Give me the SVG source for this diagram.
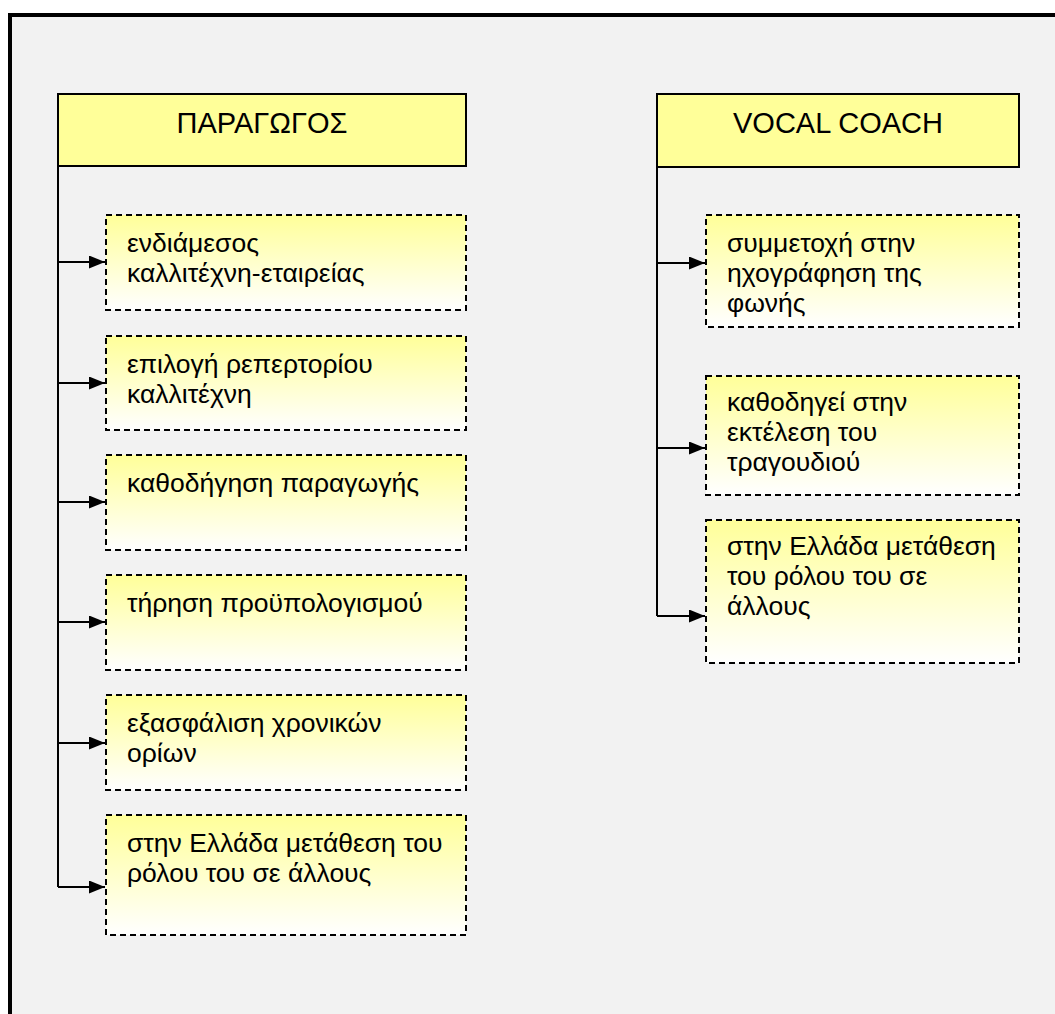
<svg xmlns="http://www.w3.org/2000/svg" width="1055" height="1014" viewBox="0 0 1055 1014">
  <defs>
    <linearGradient id="fade" x1="0" y1="0" x2="0" y2="1">
      <stop offset="0" stop-color="#ffff99"/>
      <stop offset="1" stop-color="#ffffff"/>
    </linearGradient>
    <marker id="arrow" viewBox="0 0 16 13" refX="16" refY="6.5" markerWidth="8" markerHeight="6.5" markerUnits="strokeWidth" orient="auto">
      <path d="M0,0 L16,6.5 L0,13 z" fill="#000"/>
    </marker>
    <style>
      .frame { fill: #f2f2f2; stroke: #000; stroke-width: 4; }
      .head { fill: #ffff99; stroke: #000; stroke-width: 2; }
      .item { fill: url(#fade); stroke: #000; stroke-width: 2; stroke-dasharray: 6 4; }
      .ht { font-family: "Liberation Sans", Arial, sans-serif; font-size: 29px; fill: #000; text-anchor: middle; }
      .t { font-family: "Liberation Sans", Arial, sans-serif; font-size: 26.5px; fill: #000; }
      .c { fill: none; stroke: #000; stroke-width: 2; }
      .a { fill: none; stroke: #000; stroke-width: 2; marker-end: url(#arrow); }
    </style>
  </defs>
  <rect x="0" y="0" width="1055" height="1014" fill="#ffffff"/>
  <rect class="frame" x="10" y="15" width="1100" height="1100"/>

  <g id="connectors">
    <path class="c" d="M58,166 V887"/>
    <path class="a" d="M58,262 H105"/>
    <path class="a" d="M58,383 H105"/>
    <path class="a" d="M58,502 H105"/>
    <path class="a" d="M58,622 H105"/>
    <path class="a" d="M58,743 H105"/>
    <path class="a" d="M58,887 H105"/>
    <path class="c" d="M657,167 V616"/>
    <path class="a" d="M657,263 H705"/>
    <path class="a" d="M657,448 H705"/>
    <path class="a" d="M657,616 H705"/>
  </g>

  <g id="producer">
    <rect class="head" x="58" y="94" width="408" height="72"/>
    <text class="ht" x="262" y="133">ΠΑΡΑΓΩΓΟΣ</text>
  </g>
  <g id="p1">
    <rect class="item" x="106" y="215" width="360" height="95"/>
    <text class="t" x="127" y="252">ενδιάμεσος</text>
    <text class="t" x="127" y="282">καλλιτέχνη-εταιρείας</text>
  </g>
  <g id="p2">
    <rect class="item" x="106" y="336" width="360" height="94"/>
    <text class="t" x="127" y="373">επιλογή ρεπερτορίου</text>
    <text class="t" x="127" y="403">καλλιτέχνη</text>
  </g>
  <g id="p3">
    <rect class="item" x="106" y="455" width="360" height="95"/>
    <text class="t" x="127" y="492">καθοδήγηση παραγωγής</text>
  </g>
  <g id="p4">
    <rect class="item" x="106" y="575" width="360" height="95"/>
    <text class="t" x="127" y="612">τήρηση προϋπολογισμού</text>
  </g>
  <g id="p5">
    <rect class="item" x="106" y="695" width="360" height="95"/>
    <text class="t" x="127" y="732">εξασφάλιση χρονικών</text>
    <text class="t" x="127" y="762">ορίων</text>
  </g>
  <g id="p6">
    <rect class="item" x="106" y="815" width="360" height="120"/>
    <text class="t" x="127" y="852">στην Ελλάδα μετάθεση του</text>
    <text class="t" x="127" y="882">ρόλου του σε άλλους</text>
  </g>

  <g id="vocalcoach">
    <rect class="head" x="657" y="94" width="362" height="73"/>
    <text class="ht" x="838" y="133">VOCAL COACH</text>
  </g>
  <g id="v1">
    <rect class="item" x="706" y="215" width="313" height="112"/>
    <text class="t" x="727" y="252">συμμετοχή στην</text>
    <text class="t" x="727" y="282">ηχογράφηση της</text>
    <text class="t" x="727" y="312">φωνής</text>
  </g>
  <g id="v2">
    <rect class="item" x="706" y="376" width="313" height="119"/>
    <text class="t" x="727" y="411">καθοδηγεί στην</text>
    <text class="t" x="727" y="441">εκτέλεση του</text>
    <text class="t" x="727" y="471">τραγουδιού</text>
  </g>
  <g id="v3">
    <rect class="item" x="706" y="520" width="313" height="143"/>
    <text class="t" x="727" y="555">στην Ελλάδα μετάθεση</text>
    <text class="t" x="727" y="585">του ρόλου του σε</text>
    <text class="t" x="727" y="615">άλλους</text>
  </g>
</svg>
